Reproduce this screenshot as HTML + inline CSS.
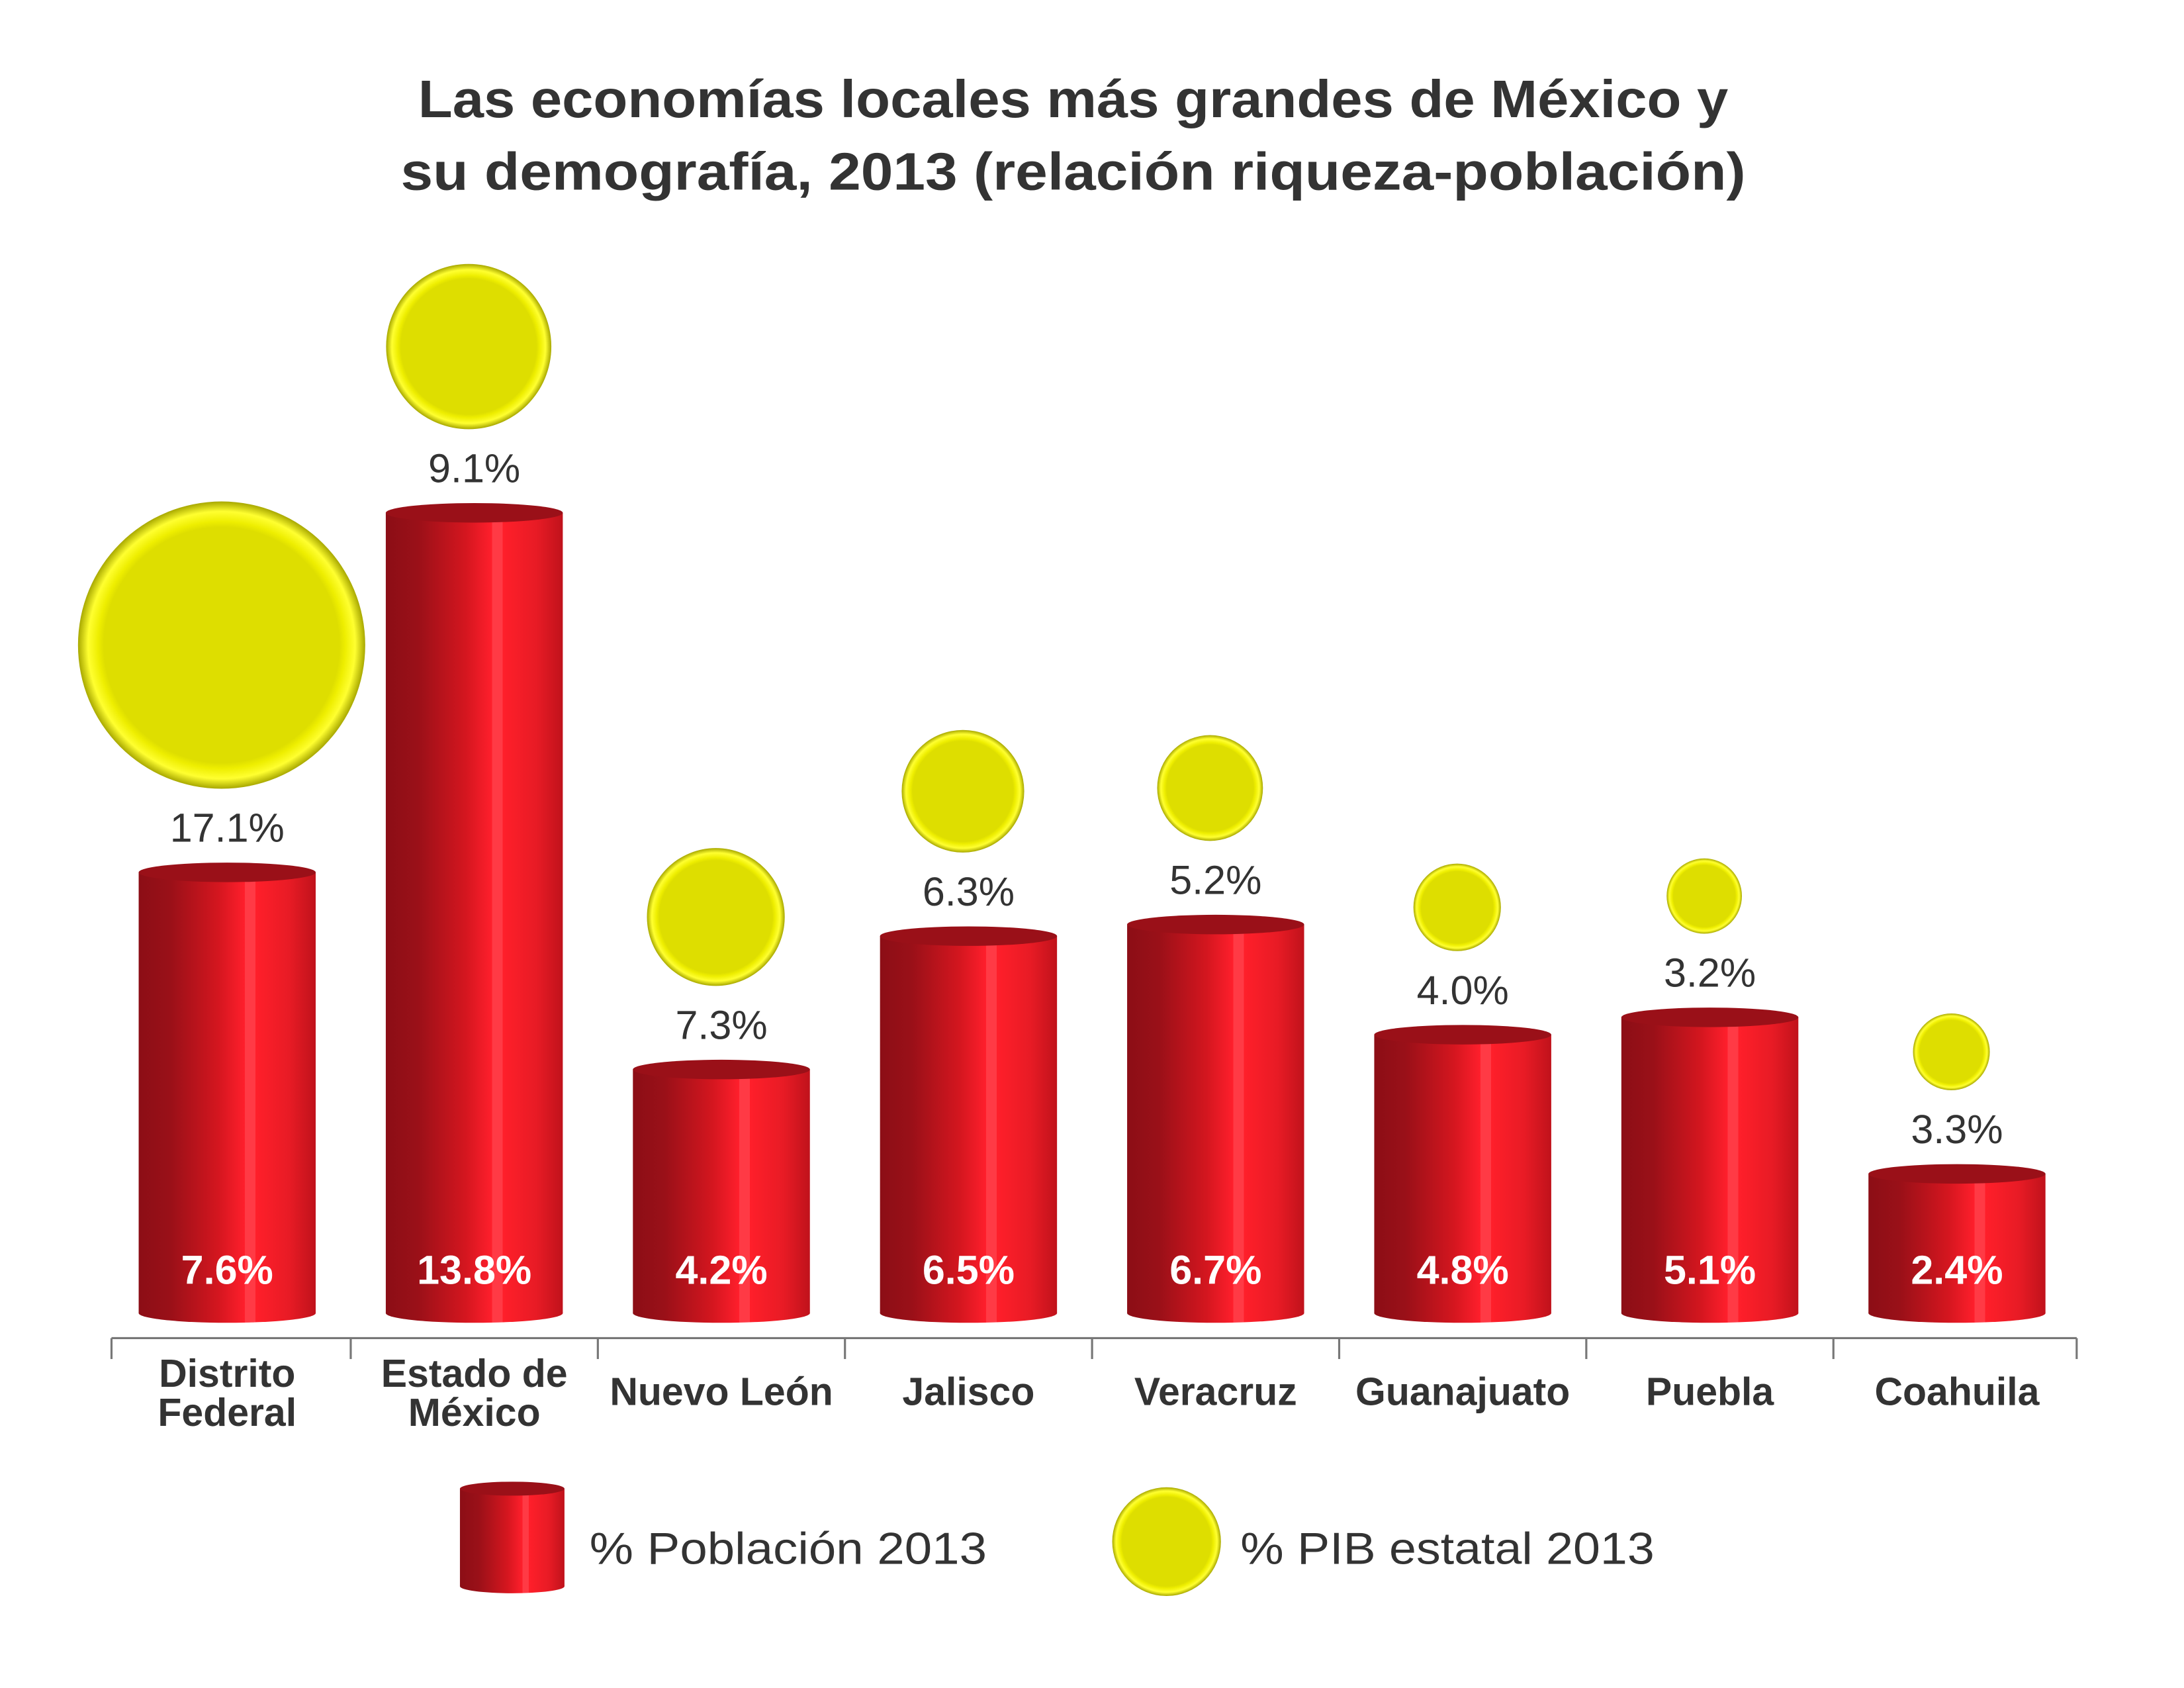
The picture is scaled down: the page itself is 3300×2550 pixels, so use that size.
<!DOCTYPE html>
<html><head><meta charset="utf-8"><style>
html,body{margin:0;padding:0;background:#fff;}
svg{display:block;}
text{font-family:"Liberation Sans",sans-serif;fill:#333;}
</style></head><body>
<svg id="chart" width="3300" height="2550" viewBox="0 0 1567 1211" preserveAspectRatio="none" xmlns="http://www.w3.org/2000/svg">
<defs>
<linearGradient id="cyl" x1="0" x2="1" y1="0" y2="0">
<stop offset="0" stop-color="#8c0e16"/>
<stop offset="0.18" stop-color="#9a1018"/>
<stop offset="0.45" stop-color="#d4161f"/>
<stop offset="0.6" stop-color="#ff1f2c"/>
<stop offset="0.6" stop-color="#ff3a45"/>
<stop offset="0.66" stop-color="#ff3a45"/>
<stop offset="0.66" stop-color="#ff1f2a"/>
<stop offset="0.85" stop-color="#e81b25"/>
<stop offset="1" stop-color="#c0121b"/>
</linearGradient>
<radialGradient id="rim" cx="0.5" cy="0.5" r="0.5">
<stop offset="0.82" stop-color="#dede00"/>
<stop offset="0.86" stop-color="#eeee00"/>
<stop offset="0.93" stop-color="#ffff30"/>
<stop offset="1" stop-color="#a8a800"/>
</radialGradient>
</defs>
<g>
<text x="770" y="84" text-anchor="middle" font-size="38" font-weight="bold" textLength="940" lengthAdjust="spacingAndGlyphs">Las economías locales más grandes de México y</text>
<text x="770" y="136" text-anchor="middle" font-size="38" font-weight="bold" textLength="965" lengthAdjust="spacingAndGlyphs">su demografía, 2013 (relación riqueza-población)</text>
</g>
<g id="marks"></g>
<g>
<g>
<rect x="330" y="1068" width="75" height="70" fill="url(#cyl)"/>
<ellipse cx="367.5" cy="1138" rx="37.5" ry="5" fill="url(#cyl)"/>
<ellipse cx="367.5" cy="1068" rx="37.5" ry="5" fill="#9a1018"/>
<text x="423" y="1122" font-size="32" textLength="285" lengthAdjust="spacingAndGlyphs">% Población 2013</text>
</g>
<g>
<circle cx="837" cy="1106" r="39" fill="url(#rim)"/>
<text x="890" y="1122" font-size="32" textLength="297" lengthAdjust="spacingAndGlyphs">% PIB estatal 2013</text>
</g>
</g>
</svg>
<script>
const categories = [["Distrito","Federal"],["Estado de","México"],["Nuevo León"],["Jalisco"],["Veracruz"],["Guanajuato"],["Puebla"],["Coahuila"]];
const poblacion = [7.6, 13.8, 4.2, 6.5, 6.7, 4.8, 5.1, 2.4];
const pib = [17.1, 9.1, 7.3, 6.3, 5.2, 4.0, 3.2, 3.3];
const pobLabels = ["7.6%","13.8%","4.2%","6.5%","6.7%","4.8%","5.1%","2.4%"];
const pibLabels = ["17.1%","9.1%","7.3%","6.3%","5.2%","4.0%","3.2%","3.3%"];

const NS = "http://www.w3.org/2000/svg";
const g = document.getElementById("marks");
const baseY = 942, unit = 41.6, barW = 127, x0 = 163, step = 177.3;
const xC = i => x0 + i * step;
const yV = v => baseY - v * unit;
const rV = v => 9.5 + 5.47 * v;
function mk(tag, attrs, parent) {
  const e = document.createElementNS(NS, tag);
  for (const k in attrs) e.setAttribute(k, attrs[k]);
  (parent || g).appendChild(e);
  return e;
}
const axis = mk("g", {});


mk("line", {x1: 80, x2: 1490, y1: 960, y2: 960, stroke: "#777", "stroke-width": 1.5}, axis);
const tickXs = [80];
for (let i = 0; i < categories.length - 1; i++) tickXs.push((xC(i) + xC(i + 1)) / 2);
tickXs.push(1490);
tickXs.forEach(tx => mk("line", {x1: tx, x2: tx, y1: 960, y2: 975, stroke: "#777", "stroke-width": 1.5}, axis));

categories.forEach((cat, i) => {
  const cx = xC(i), top = yV(poblacion[i]);
  const bar = mk("g", {});
  
  
  mk("rect", {x: cx - barW / 2, y: top, width: barW, height: baseY - top, fill: "url(#cyl)"}, bar);
  mk("ellipse", {cx: cx, cy: baseY, rx: barW / 2, ry: 7, fill: "url(#cyl)"}, bar);
  mk("ellipse", {cx: cx, cy: top, rx: barW / 2, ry: 7, fill: "#9a1018"}, bar);
  const inl = mk("text", {x: cx, y: 921, "text-anchor": "middle", "font-size": 29, "font-weight": "bold", style: "fill:#fff"});
  
  
  inl.textContent = pobLabels[i];
  const lblY = top - 22;
  const pl = mk("text", {x: cx, y: lblY, "text-anchor": "middle", "font-size": 29});
  
  
  pl.textContent = pibLabels[i];
  const r = rV(pib[i]);
  const c = mk("circle", {cx: cx - 4, cy: top - 60 - r, r: r, fill: "url(#rim)"});
  
  
  const cl = mk("text", {x: cx, y: cat.length === 2 ? 995 : 1008, "text-anchor": "middle", "font-size": 28, "font-weight": "bold"});
  
  
  cat.forEach((line, j) => {
    const ts = mk("tspan", {x: cx, dy: j === 0 ? 0 : 28}, cl);
    ts.textContent = line;
  });
});
</script>
</body></html>
